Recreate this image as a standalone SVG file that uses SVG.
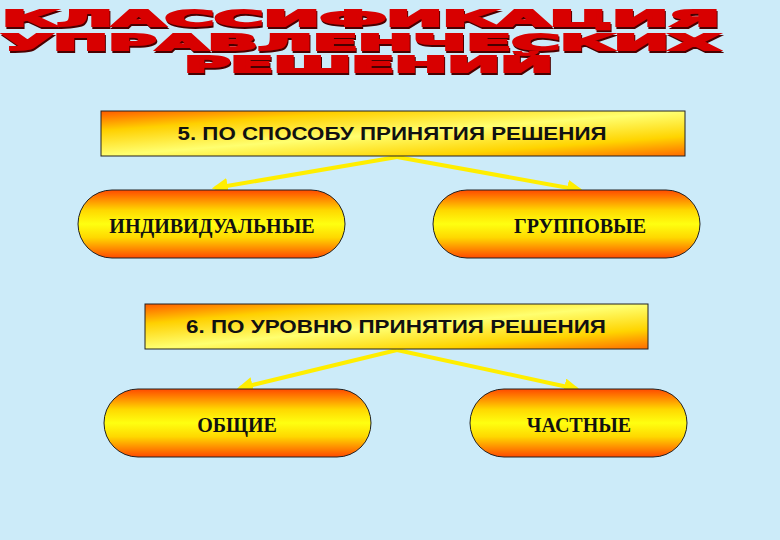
<svg xmlns="http://www.w3.org/2000/svg" width="780" height="540" viewBox="0 0 780 540">
<defs>
<linearGradient id="boxG" x1="0" y1="0" x2="1" y2="1">
<stop offset="0" stop-color="#ff5a00"/>
<stop offset="0.22" stop-color="#ffd000"/>
<stop offset="0.5" stop-color="#ffff70"/>
<stop offset="0.78" stop-color="#ffd400"/>
<stop offset="1" stop-color="#ff6a00"/>
</linearGradient>
<linearGradient id="pillG" x1="0" y1="0" x2="0" y2="1">
<stop offset="0" stop-color="#ff4a00"/>
<stop offset="0.3" stop-color="#ffd800"/>
<stop offset="0.5" stop-color="#ffff10"/>
<stop offset="0.7" stop-color="#ffd800"/>
<stop offset="1" stop-color="#ff4a00"/>
</linearGradient>
<marker id="ah" viewBox="0 0 10 10" refX="8" refY="5" markerWidth="4" markerHeight="4" orient="auto">
<path d="M0,0 L10,5 L0,10 z" fill="#ffee00"/>
</marker>
<filter id="sh" x="-5%" y="-20%" width="110%" height="150%">
<feOffset in="SourceAlpha" dx="1" dy="1.5" result="o"/>
<feFlood flood-color="#4a0000"/>
<feComposite in2="o" operator="in" result="s"/>
<feMerge><feMergeNode in="s"/><feMergeNode in="SourceGraphic"/></feMerge>
</filter>
</defs>
<style>
.title{font-family:"DejaVu Sans","Liberation Sans",sans-serif;font-weight:bold;font-size:22px;fill:#d80000;stroke:#d80000;stroke-width:1.8;filter:url(#sh)}
.box{fill:url(#boxG);stroke:#222;stroke-width:1}
.pill{fill:url(#pillG);stroke:#222;stroke-width:1}
.bt{font-family:"Liberation Sans",Arial,sans-serif;font-weight:bold;font-size:19px;fill:#111;text-anchor:middle}
.pt{font-family:"Liberation Serif","Times New Roman",serif;font-weight:bold;font-size:20px;fill:#111;text-anchor:middle}
.conn{stroke:#ffee00;stroke-width:4;fill:none;marker-end:url(#ah)}
</style>
<rect width="780" height="540" fill="#ccebf9"/>
<g id="title">
<text class="title" x="2" y="26" textLength="718" lengthAdjust="spacingAndGlyphs">КЛАССИФИКАЦИЯ</text>
<text class="title" x="2" y="50" textLength="718" lengthAdjust="spacingAndGlyphs">УПРАВЛЕНЧЕСКИХ</text>
<text class="title" x="184" y="72" textLength="369" lengthAdjust="spacingAndGlyphs">РЕШЕНИЙ</text>
</g>
<g id="connectors">
<line class="conn" x1="397" y1="157" x2="215" y2="188"/>
<line class="conn" x1="397" y1="157" x2="580" y2="190"/>
<line class="conn" x1="397" y1="350" x2="240" y2="388"/>
<line class="conn" x1="397" y1="350" x2="577" y2="389"/>
</g>
<g id="box5">
<rect class="box" x="101" y="111" width="584" height="45"/>
<text class="bt" x="392" y="140" textLength="429" lengthAdjust="spacingAndGlyphs">5. ПО СПОСОБУ ПРИНЯТИЯ РЕШЕНИЯ</text>
</g>
<g id="individual">
<rect class="pill" x="78" y="190" width="267" height="68" rx="34"/>
<text class="pt" x="212" y="233">ИНДИВИДУАЛЬНЫЕ</text>
</g>
<g id="group">
<rect class="pill" x="433" y="190" width="267" height="68" rx="34"/>
<text class="pt" x="580" y="233">ГРУППОВЫЕ</text>
</g>
<g id="box6">
<rect class="box" x="145" y="304" width="503" height="45"/>
<text class="bt" x="396" y="333" textLength="420" lengthAdjust="spacingAndGlyphs">6. ПО УРОВНЮ ПРИНЯТИЯ РЕШЕНИЯ</text>
</g>
<g id="general">
<rect class="pill" x="104" y="389" width="267" height="68" rx="34"/>
<text class="pt" x="237" y="432">ОБЩИЕ</text>
</g>
<g id="partial">
<rect class="pill" x="470" y="389" width="217" height="68" rx="34"/>
<text class="pt" x="579" y="432">ЧАСТНЫЕ</text>
</g>
</svg>
